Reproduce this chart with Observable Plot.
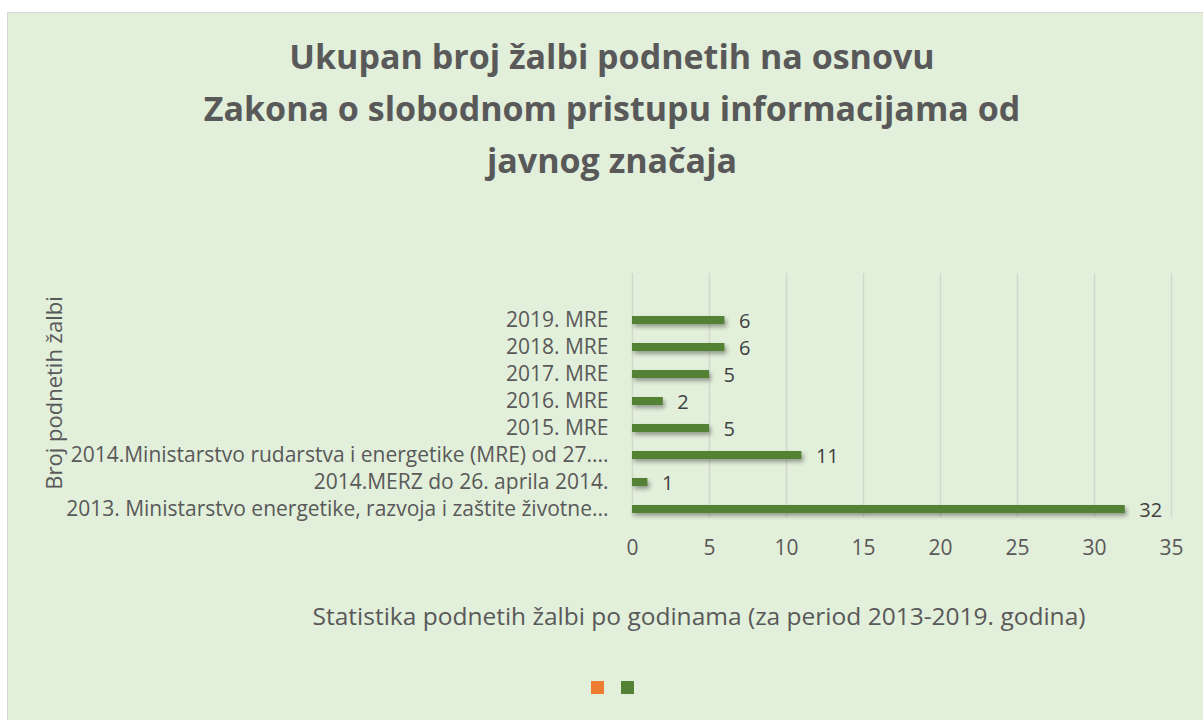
<!DOCTYPE html>
<html><head><meta charset="utf-8">
<script src="https://cdn.jsdelivr.net/npm/d3@7"></script>
<script src="https://cdn.jsdelivr.net/npm/@observablehq/plot@0.6"></script>
<style>
body{margin:0;background:#fff;font-family:"Open Sans",sans-serif;width:1203px;height:720px;overflow:hidden;position:relative;}
#panel{position:absolute;left:7px;top:12px;width:1196px;height:708px;background:#e2efda;border-left:1px solid #d6d6d6;border-top:1px solid #d6d6d6;box-sizing:border-box;}
#title{position:absolute;left:0;width:1224px;top:30px;text-align:center;font-weight:700;font-size:34px;line-height:52px;color:#595959;}
#chart{position:absolute;left:0;top:200px;}
#chart svg{overflow:visible;background:transparent;}
#chart g[aria-label="bar"]{filter:drop-shadow(2px 3px 2px rgba(0,0,0,0.35));}
#ytitle{position:absolute;left:53px;top:393px;transform:translate(-50%,-50%) rotate(-90deg);white-space:nowrap;font-size:22px;line-height:22px;color:#595959;}
#xtitle{position:absolute;left:0;width:1398px;top:604px;text-align:center;font-size:24.5px;line-height:24.5px;color:#595959;}
#legend{position:absolute;top:681px;left:591px;display:flex;gap:17px;}
#legend span{display:inline-block;width:13px;height:13px;}
</style></head><body>
<div id="panel"></div>
<div id="title"></div>
<div id="chart"></div>
<div id="ytitle"></div>
<div id="xtitle"></div>
<div id="legend"></div>
<script>
const titleLines = ["Ukupan broj žalbi podnetih na osnovu", "Zakona o slobodnom pristupu informacijama od", "javnog značaja"];
const yAxisTitle = "Broj podnetih žalbi";
const xAxisTitle = "Statistika podnetih žalbi po godinama (za period 2013-2019. godina)";
const categories = [
  "2013. Ministarstvo energetike, razvoja i zaštite životne...",
  "2014.MERZ do 26. aprila 2014.",
  "2014.Ministarstvo rudarstva i energetike (MRE) od 27....",
  "2015. MRE",
  "2016. MRE",
  "2017. MRE",
  "2018. MRE",
  "2019. MRE"
];
const values = [32, 1, 11, 5, 2, 5, 6, 6];
const xTicks = [0, 5, 10, 15, 20, 25, 30, 35];
const seriesColors = ["#ED7D31", "#548235"];

document.getElementById("title").innerHTML = titleLines.join("<br>");
document.getElementById("ytitle").textContent = yAxisTitle;
document.getElementById("xtitle").textContent = xAxisTitle;
const legend = document.getElementById("legend");
seriesColors.forEach(c => { const s = document.createElement("span"); s.style.background = c; legend.appendChild(s); });

const data = categories.map((c, i) => ({category: c, value: values[i]}));

const chart = Plot.plot({
  width: 1203,
  height: 380,
  marginLeft: 632,
  marginRight: 32,
  marginTop: 73,
  marginBottom: 63,
  style: {fontFamily: "Open Sans", fontSize: "21px", color: "#595959", background: "transparent"},
  x: {domain: [0, 35], ticks: xTicks},
  y: {domain: categories.slice().reverse(), range: [106.5, 322.5], paddingInner: 0.7, paddingOuter: 0.35},
  marks: [
    Plot.gridX(xTicks, {stroke: "#d3d8cf", strokeOpacity: 1, strokeWidth: 1.5}),
    Plot.barX(data, {x: "value", y: "category", fill: seriesColors[1]}),
    Plot.text(data, {x: "value", y: "category", text: d => String(d.value), textAnchor: "start", dx: 14, dy: 1, fill: "#404040", fontSize: 20}),
    Plot.axisX({ticks: xTicks, tickSize: 0, tickPadding: 23, label: null, fill: "#595959", fontSize: 21}),
    Plot.axisY({tickSize: 0, tickPadding: 24, label: null, fill: "#595959", fontSize: 21})
  ]
});
document.getElementById("chart").appendChild(chart);
</script>
</body></html>
